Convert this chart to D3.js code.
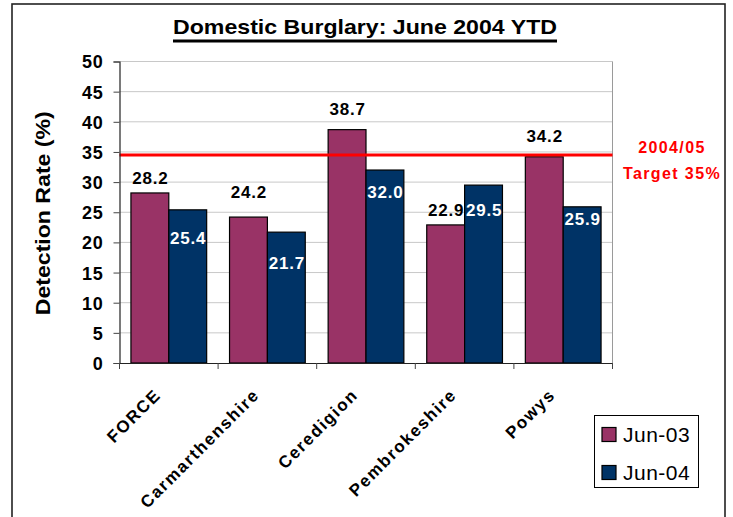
<!DOCTYPE html>
<html>
<head>
<meta charset="utf-8">
<script src="https://cdn.jsdelivr.net/npm/d3@7"></script>
<style>
  html, body { margin: 0; padding: 0; background: #ffffff; }
  svg { display: block; font-family: "Liberation Sans", Arial, sans-serif; }
</style>
</head>
<body>
<svg id="chart" width="733" height="517"></svg>
<script>
// ---- data ----
const categories = ["FORCE", "Carmarthenshire", "Ceredigion", "Pembrokeshire", "Powys"];
const seriesNames = ["Jun-03", "Jun-04"];
const jun03 = [28.2, 24.2, 38.7, 22.9, 34.2];
const jun04 = [25.4, 21.7, 32.0, 29.5, 25.9];
const targetValue = 34.5;
const targetLabel = ["2004/05", "Target 35%"];
const yTicks = [0, 5, 10, 15, 20, 25, 30, 35, 40, 45, 50];
const titleText = "Domestic Burglary: June 2004 YTD";
const yTitle = "Detection Rate (%)";

// ---- layout / style (label nudges in px, relative to bar tops) ----
const labelNudge03 = [-15, -25, -21, -15, -21];
const labelNudge04 = [28, 31, 22, 25, 12];
const colors = ["#993366", "#003366"];
const labelColors = ["#000000", "#ffffff"];

const svg = d3.select("#chart");
const plot = { left: 119.5, right: 612.5, top: 61.5, bottom: 363 };

// outer frame
svg.append("rect").attr("x", 12).attr("y", 4).attr("width", 713).attr("height", 540)
  .attr("fill", "#fff").attr("stroke", "#222").attr("stroke-width", 1.6);

const x = d3.scaleBand().domain(categories).range([plot.left, plot.right]).padding(0);
const xi = d3.scaleBand().domain(seriesNames)
  .range([x.bandwidth() * 0.116, x.bandwidth() * (1 - 0.116)]).padding(0);
const y = d3.scaleLinear().domain([0, 50]).range([plot.bottom, plot.top]);

// gridlines
svg.append("g").selectAll("line").data(yTicks.filter(t => t > 0)).join("line")
  .attr("x1", plot.left).attr("x2", plot.right)
  .attr("y1", d => y(d)).attr("y2", d => y(d))
  .attr("stroke", "#c8c8c8").attr("stroke-width", 1);
// right plot border
svg.append("line").attr("x1", plot.right).attr("x2", plot.right)
  .attr("y1", plot.top).attr("y2", plot.bottom).attr("stroke", "#9a9a9a");

// bars
const series = [jun03, jun04];
series.forEach((vals, si) => {
  svg.append("g").selectAll("rect").data(vals).join("rect")
    .attr("x", (d, i) => x(categories[i]) + xi(seriesNames[si]))
    .attr("width", xi.bandwidth())
    .attr("y", d => y(d))
    .attr("height", d => y(0) - y(d))
    .attr("fill", colors[si]).attr("stroke", "#000").attr("stroke-width", 1.2);
});

// target line
svg.append("line").attr("x1", plot.left).attr("x2", plot.right)
  .attr("y1", y(targetValue)).attr("y2", y(targetValue))
  .attr("stroke", "#ff0000").attr("stroke-width", 3);

// data labels
const nudges = [labelNudge03, labelNudge04];
series.forEach((vals, si) => {
  svg.append("g").selectAll("text").data(vals).join("text")
    .attr("x", (d, i) => x(categories[i]) + xi(seriesNames[si]) + xi.bandwidth() / 2 + 0.5)
    .attr("y", (d, i) => y(d) + nudges[si][i])
    .attr("dy", "0.36em")
    .attr("text-anchor", "middle")
    .attr("font-size", 17).attr("font-weight", "bold").attr("letter-spacing", 0.8)
    .attr("fill", labelColors[si])
    .text(d => d.toFixed(1));
});

// y axis
const yAxis = svg.append("g").attr("transform", `translate(${plot.left},0)`)
  .call(d3.axisLeft(y).tickValues(yTicks).tickSize(6).tickPadding(10).tickFormat(d3.format("d")));
yAxis.select(".domain").attr("stroke", "#222").attr("stroke-width", 1.2);
yAxis.selectAll(".tick line").attr("stroke", "#444");
yAxis.selectAll(".tick text").attr("font-size", 18).attr("font-weight", "bold")
  .attr("font-family", "Liberation Sans, Arial, sans-serif").attr("fill", "#000")
  .attr("dy", "0.36em").attr("letter-spacing", 0.8);

// x axis
const xAxis = svg.append("g").attr("transform", `translate(0,${plot.bottom})`)
  .call(d3.axisBottom(x).tickSize(0).tickFormat(""));
xAxis.select(".domain").attr("stroke", "#222").attr("stroke-width", 1.2);
// tick marks at band boundaries
svg.append("g").selectAll("line").data(categories.concat(["__end"])).join("line")
  .attr("x1", (d, i) => plot.left + i * x.step()).attr("x2", (d, i) => plot.left + i * x.step())
  .attr("y1", plot.bottom).attr("y2", plot.bottom + 6)
  .attr("stroke", "#444");
// x labels rotated
svg.append("g").selectAll("text").data(categories).join("text")
  .attr("transform", d => `translate(${x(d) + x.bandwidth() / 2 - 7},${plot.bottom + 33}) rotate(-45)`)
  .attr("text-anchor", "end")
  .attr("font-size", 17).attr("font-weight", "bold").attr("letter-spacing", 1.6)
  .attr("fill", "#000")
  .text(d => d);

// title
svg.append("text").attr("x", 173).attr("y", 33.5)
  .attr("font-size", 21).attr("font-weight", "bold").attr("fill", "#000")
  .attr("textLength", 384).attr("lengthAdjust", "spacingAndGlyphs")
  .text(titleText);
svg.append("rect").attr("x", 173).attr("y", 39.5).attr("width", 384).attr("height", 3).attr("fill", "#000");

// y title, centred on the plot area
svg.append("text")
  .attr("transform", `translate(50,${(plot.top + plot.bottom) / 2 + 1}) rotate(-90)`)
  .attr("text-anchor", "middle")
  .attr("font-size", 21).attr("font-weight", "bold").attr("fill", "#000")
  .attr("textLength", 204).attr("lengthAdjust", "spacingAndGlyphs")
  .text(yTitle);

// target label
svg.append("g").selectAll("text").data(targetLabel).join("text")
  .attr("x", 672).attr("y", (d, i) => 153 + i * 26)
  .attr("text-anchor", "middle")
  .attr("font-size", 16).attr("font-weight", "bold").attr("fill", "#ff0000")
  .attr("letter-spacing", 1.4)
  .text(d => d);

// legend
const lg = svg.append("g");
lg.append("rect").attr("x", 594.5).attr("y", 415.5).attr("width", 104).attr("height", 72)
  .attr("fill", "#fff").attr("stroke", "#000").attr("stroke-width", 1);
seriesNames.forEach((name, i) => {
  lg.append("rect").attr("x", 602).attr("y", 427.5 + i * 38).attr("width", 14).attr("height", 14)
    .attr("fill", colors[i]).attr("stroke", "#000").attr("stroke-width", 1.2);
  lg.append("text").attr("x", 623).attr("y", 434.5 + i * 38).attr("dy", "0.36em")
    .attr("font-size", 21).attr("fill", "#000").attr("letter-spacing", 0.5)
    .text(name);
});
</script>
</body>
</html>
